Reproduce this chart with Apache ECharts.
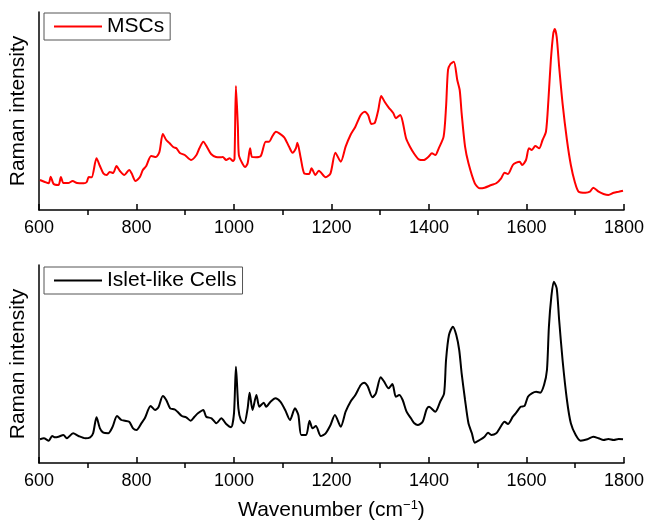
<!DOCTYPE html>
<html>
<head>
<meta charset="utf-8">
<script src="https://cdn.jsdelivr.net/npm/echarts@6/dist/echarts.min.js"></script>
<style>
  html, body { margin: 0; padding: 0; background: #fff; }
  #chart { width: 647px; height: 524px; }
</style>
</head>
<body>
<div id="chart"></div>
<script>
// wavenumber ticks (cm-1)
var majorTicks = [600, 800, 1000, 1200, 1400, 1600, 1800];
var minorTicks = [700, 900, 1100, 1300, 1500, 1700];

// MSCs spectrum (arbitrary units)
var mscWave = [602, 612, 620, 624, 630, 640, 645, 650, 660, 669, 678, 692, 698, 702, 708, 718, 725, 732, 739, 745,
  752, 759, 766, 775, 785, 790, 798, 807, 813, 820, 830, 840, 847, 854, 861, 868, 876, 882, 889, 899,
  912, 923, 929, 937, 946, 953, 963, 973, 977, 984, 991, 998, 1001, 1004, 1008, 1010, 1017, 1023, 1028, 1033,
  1037, 1045, 1055, 1065, 1072, 1079, 1086, 1093, 1103, 1113, 1120, 1127, 1130, 1137, 1144, 1154, 1159, 1167, 1174, 1188,
  1198, 1208, 1219, 1229, 1239, 1249, 1260, 1268, 1275, 1282, 1289, 1296, 1302, 1309, 1317, 1327, 1332, 1341, 1346, 1353,
  1361, 1370, 1379, 1389, 1399, 1406, 1413, 1420, 1430, 1435, 1439, 1444, 1451, 1458, 1463, 1467, 1474, 1481, 1494, 1504,
  1514, 1528, 1538, 1548, 1555, 1562, 1572, 1579, 1586, 1591, 1599, 1605, 1611, 1618, 1626, 1633, 1640, 1645, 1650, 1655,
  1658, 1662, 1667, 1674, 1683, 1691, 1699, 1707, 1721, 1730, 1737, 1748, 1758, 1768, 1779, 1789, 1798];
var mscInt = [30, 28, 26.7, 33.3, 26, 25, 33, 27, 27, 29, 27, 26.7, 28, 33, 32.7, 51.7, 44, 36.7, 35, 38,
  37, 44, 39, 35, 40, 36.7, 29, 33, 40, 44, 54, 53, 58, 76, 70, 66.7, 62.7, 61.7, 57, 55,
  50, 55, 61.7, 68.3, 61.7, 56, 53, 52.7, 53, 50, 51.7, 49, 51, 124, 83, 55, 46.7, 43, 46.7, 61.7,
  53, 52.7, 54, 68.3, 68.3, 74, 78.3, 76.7, 72.7, 63.3, 57.3, 61.7, 67.3, 51.7, 36.7, 36, 41.7, 35, 39.3, 32.7,
  36.7, 57.3, 48.3, 63.3, 75, 83.3, 95, 98.3, 95, 86, 87.3, 100, 114, 108.3, 102.7, 96.7, 91.7, 95, 88.3, 71.7,
  63.3, 56, 50.7, 50, 53.3, 56.7, 55, 61.7, 73.3, 103, 140, 146, 148.3, 130, 120, 96.7, 63.3, 46.7, 26.7, 21.7,
  22.3, 25, 26.7, 31.7, 37.3, 36, 45, 47.3, 48.3, 45, 50, 61.7, 60, 64, 61.7, 70, 78.3, 110, 150, 176.7,
  181, 173, 143.3, 106.7, 70, 45, 28.3, 18.3, 17.3, 18.3, 22.3, 18.3, 16, 15, 17.3, 18.3, 19.3];

// Islet-like cells spectrum (arbitrary units)
var isletWave = [602, 610, 620, 627, 633, 640, 650, 657, 670, 681, 695, 705, 711, 718, 725, 732, 742, 751, 760, 769,
  776, 785, 793, 800, 810, 817, 829, 838, 845, 854, 861, 869, 878, 884, 893, 902, 911, 919, 926, 937,
  943, 954, 964, 974, 984, 994, 1000, 1004, 1009, 1014, 1021, 1028, 1032, 1038, 1046, 1052, 1061, 1066, 1075, 1085,
  1095, 1105, 1115, 1125, 1132, 1138, 1148, 1155, 1161, 1168, 1178, 1188, 1198, 1207, 1219, 1229, 1239, 1249, 1260, 1267,
  1274, 1284, 1291, 1301, 1308, 1317, 1325, 1332, 1339, 1346, 1354, 1363, 1370, 1377, 1387, 1395, 1400, 1413, 1423, 1431,
  1435, 1441, 1449, 1456, 1462, 1467, 1474, 1481, 1488, 1494, 1504, 1514, 1521, 1528, 1538, 1545, 1555, 1562, 1572, 1579,
  1588, 1596, 1603, 1611, 1620, 1628, 1636, 1642, 1646, 1651, 1656, 1662, 1667, 1674, 1683, 1691, 1701, 1711, 1725, 1737,
  1748, 1758, 1768, 1779, 1789, 1798];
var isletInt = [23.7, 24.7, 22.3, 27, 25.7, 26.3, 28, 24.7, 29.7, 27, 24.7, 25.7, 29.7, 45.7, 34.7, 30.3, 29.7, 36.3, 47, 43,
  42.3, 41.3, 34.7, 33, 39.7, 44.7, 57, 53, 55.7, 67, 63, 54.7, 53.7, 51.3, 47, 45.7, 42.3, 46.3, 49.7, 53,
  46.3, 44.7, 39.7, 44.7, 39, 35.7, 49.7, 96.3, 54.7, 43, 39.7, 54.7, 70.3, 53, 68, 56.3, 60.3, 56.3, 61.3, 64.7,
  61.3, 53, 43, 54.7, 48, 28, 28, 42.3, 34.7, 37, 27, 29.7, 38, 48, 36.3, 51.3, 61.3, 68, 78, 80.3,
  77, 65.7, 69.7, 85.7, 81.3, 74.7, 79, 66.3, 68, 63, 51.3, 44.7, 39.7, 38, 41.3, 53.7, 56.3, 51.3, 61.3, 69.7,
  103, 128, 136.3, 128, 113, 89.7, 63, 39.7, 29.7, 20.3, 23, 26.3, 30.3, 28, 29.7, 34.7, 41.3, 39, 46.3, 50.3,
  56.3, 57, 66.3, 69.7, 71.3, 70.3, 78, 93, 136.3, 166.3, 181.3, 174.7, 143, 103, 63, 39.7, 28, 22.3, 23.7, 26.3,
  24.7, 23, 24, 23, 24, 23.7];

function pairs(xs, ys) {
  return xs.map(function (x, i) { return [x, ys[i]]; });
}

var font = '"Liberation Sans", Arial, sans-serif';

function majorAxis(gridIndex, withName) {
  var ax = {
    type: 'value', gridIndex: gridIndex, min: 600, max: 1800, interval: 200,
    axisLine: { lineStyle: { color: '#000', width: 1.5 } },
    axisTick: { inside: true, length: 6, customValues: majorTicks, lineStyle: { color: '#000', width: 1.5 } },
    axisLabel: { color: '#000', fontSize: 18, fontFamily: font, margin: 9,
      formatter: function (v) { return String(v); } },
    splitLine: { show: false }
  };
  if (withName) {
    ax.name = 'Wavenumber (cm{sup|\u22121})';
    ax.nameLocation = 'middle';
    ax.nameGap = 36;
    ax.nameTextStyle = {
      color: '#000', fontSize: 21, fontFamily: font,
      rich: { sup: { fontSize: 13, fontFamily: font, color: '#000', verticalAlign: 'top', padding: [0, 0, 9, 0] } }
    };
  }
  return ax;
}

function minorAxis(gridIndex) {
  return {
    type: 'value', gridIndex: gridIndex, min: 600, max: 1800, position: 'bottom',
    axisLine: { show: false },
    axisTick: { show: true, inside: false, length: 5, customValues: minorTicks, lineStyle: { color: '#000', width: 1.5 } },
    axisLabel: { show: false },
    splitLine: { show: false }
  };
}

function yAxis(gridIndex) {
  return {
    type: 'value', gridIndex: gridIndex, min: 0, max: 198,
    name: 'Raman intensity', nameLocation: 'middle', nameGap: 10, nameRotate: 90,
    nameTextStyle: { color: '#000', fontSize: 21, fontFamily: font },
    axisLine: { show: true, lineStyle: { color: '#000', width: 1.5 } },
    axisTick: { show: false },
    axisLabel: { show: false },
    splitLine: { show: false }
  };
}

function legend(name, top) {
  return {
    data: [name], left: 44, top: top, orient: 'horizontal',
    borderColor: '#555', borderWidth: 1, padding: [3, 6, 3, 10],
    icon: 'rect', itemWidth: 48, itemHeight: 2, itemGap: 6,
    textStyle: { color: '#000', fontSize: 21, fontFamily: font }
  };
}

var chart = echarts.init(document.getElementById('chart'), null, { renderer: 'canvas' });

chart.setOption({
  backgroundColor: '#fff',
  animation: false,
  grid: [
    { left: 39, right: 21, top: 12, height: 198 },
    { left: 39, right: 21, top: 265, height: 198 }
  ],
  legend: [legend('MSCs', 13), legend('Islet-like Cells', 267)],
  xAxis: [majorAxis(0, false), majorAxis(1, true), minorAxis(0), minorAxis(1)],
  yAxis: [yAxis(0), yAxis(1)],
  series: [
    {
      name: 'MSCs', type: 'line', xAxisIndex: 0, yAxisIndex: 0,
      data: pairs(mscWave, mscInt), showSymbol: false, symbol: 'none', smooth: 0.25,
      lineStyle: { color: '#ff0000', width: 2 }, itemStyle: { color: '#ff0000' }
    },
    {
      name: 'Islet-like Cells', type: 'line', xAxisIndex: 1, yAxisIndex: 1,
      data: pairs(isletWave, isletInt), showSymbol: false, symbol: 'none', smooth: 0.25,
      lineStyle: { color: '#000', width: 2 }, itemStyle: { color: '#000' }
    }
  ]
});
</script>
</body>
</html>
